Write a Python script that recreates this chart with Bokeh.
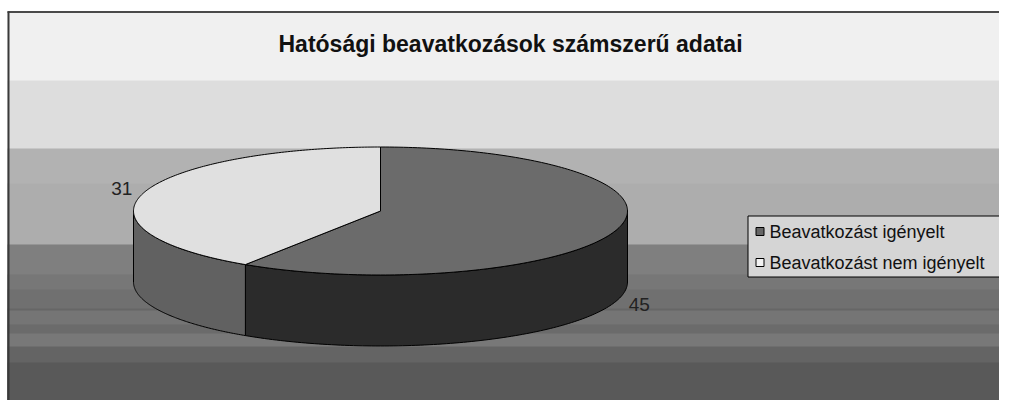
import numpy as np
from bokeh.plotting import figure
from bokeh.models import Range1d
from bokeh.core.properties import value
from bokeh.embed import file_html
from bokeh.resources import INLINE

# ---- data ----
title_text = "Hatósági beavatkozások számszerű adatai"
categories = ["Beavatkozást igényelt", "Beavatkozást nem igényelt"]
values = [45, 31]
top_colors = ["#6b6b6b", "#e0e0e0"]
side_colors = ["#2b2b2b", "#616161"]
legend_colors = ["#666666", "#f2f2f2"]

# ---- style / layout ----
FONT = "Liberation Sans"
band_tops = [11, 80, 148, 183, 244, 274, 289, 308, 310, 324, 333, 346, 362, 410]
band_colors = ["#f0f0f0", "#dddddd", "#b2b2b2", "#adadad", "#7f7f7f", "#777777",
               "#707070", "#666666", "#757575", "#6b6b6b", "#787878", "#646464",
               "#595959", "#4d4d4d"]
cx, cy, rx, ry, depth = 380.0, 210.5, 247.0, 64.0, 71.0

p = figure(width=999, height=400, x_range=Range1d(0, 999), y_range=Range1d(400, 0),
           x_axis_type=None, y_axis_type=None, toolbar_location=None,
           output_backend="svg", min_border=0, outline_line_color=None,
           background_fill_color="white", border_fill_color="white")

# background bands (each drawn to the bottom so no seams appear)
p.quad(left=7, right=1010, top=band_tops, bottom=[420] * len(band_tops),
       fill_color=band_colors, line_color=None)
# frame
p.line(x=[7, 1010], y=[11.5, 11.5], line_color="#4a4a4a", line_width=2)
p.line(x=[8, 8], y=[11, 420], line_color="#3a3a3a", line_width=2)

# title
p.text(x=[510], y=[43], text=[title_text], text_align="center", text_baseline="middle",
       text_font=value(FONT), text_font_style="bold", text_font_size="23px",
       text_color="#111111")

# ---- 3D pie ----
vals = np.array(values, dtype=float)
fr = vals / vals.sum()
ends = np.cumsum(fr) * 2 * np.pi
starts = np.concatenate([[0.0], ends[:-1]])

def ex(t):
    return cx + rx * np.sin(t)

def ey(t):
    return cy - ry * np.cos(t)

wall_xs, wall_ys, wall_c = [], [], []
for a, b, c in zip(starts, ends, side_colors):
    lo, hi = max(a, np.pi / 2), min(b, 3 * np.pi / 2)
    if hi > lo:
        t = np.linspace(lo, hi, 120)
        xs = np.concatenate([ex(t), ex(t[::-1])])
        ys = np.concatenate([ey(t), ey(t[::-1]) + depth])
        wall_xs.append(list(xs)); wall_ys.append(list(ys)); wall_c.append(c)
p.patches(xs=wall_xs, ys=wall_ys, fill_color=wall_c, line_color="black", line_width=1)

top_xs, top_ys = [], []
for a, b in zip(starts, ends):
    t = np.linspace(a, b, 200)
    top_xs.append([cx] + list(ex(t)))
    top_ys.append([cy] + list(ey(t)))
p.patches(xs=top_xs, ys=top_ys, fill_color=top_colors, line_color="black", line_width=1)

# data labels
mids = (starts + ends) / 2
lx, ly = [], []
for m in mids:
    x0, y0 = ex(m), ey(m)
    if np.cos(m) < 0:
        y0 += depth
    lx.append(x0 + 23 * np.sin(m))
    ly.append(y0 - 15 * np.cos(m))
p.text(x=lx, y=ly, text=[str(v) for v in values], text_align="center",
       text_baseline="middle", text_font=value(FONT), text_font_size="19px",
       text_color="#222222")

# ---- legend ----
p.quad(left=[747.5], right=[1020], top=[215.5], bottom=[276.5],
       fill_color="#d5d5d5", line_color="black", line_width=1)
row_y = [231, 262]
p.rect(x=[759.5] * len(categories), y=row_y, width=8, height=8,
       fill_color=legend_colors, line_color="black", line_width=1)
p.text(x=[769] * len(categories), y=row_y, text=categories, text_align="left",
       text_baseline="middle", text_font=value(FONT), text_font_size="18px",
       text_color="#111111")

open("out.html", "w").write(file_html(p, INLINE))
